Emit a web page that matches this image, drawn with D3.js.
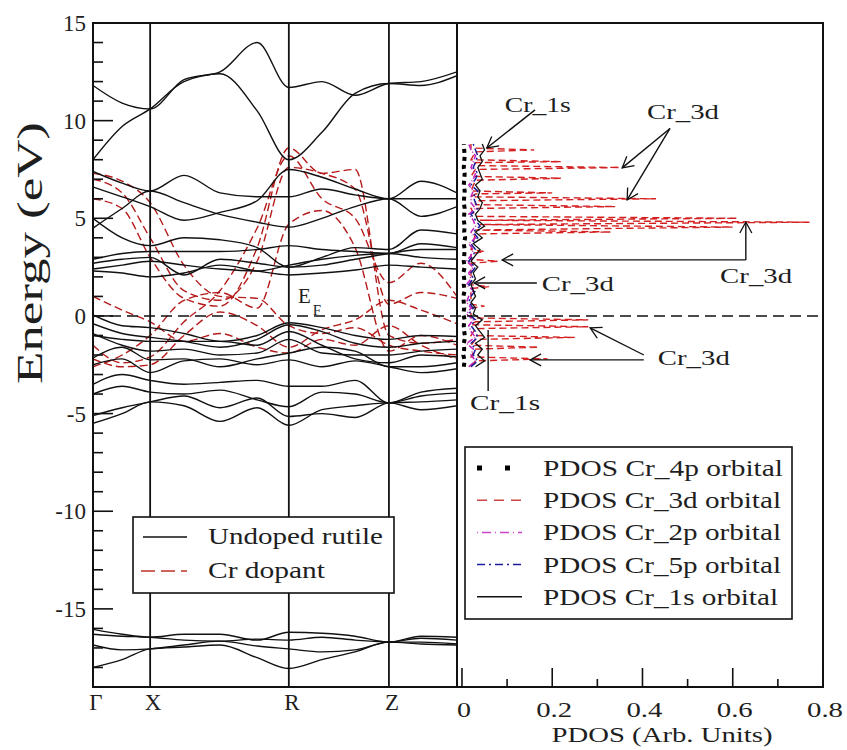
<!DOCTYPE html>
<html>
<head>
<meta charset="utf-8">
<script src="https://cdn.jsdelivr.net/npm/d3@7"></script>
<style>
body{margin:0;background:#fff}
svg text{font-family:"Liberation Serif",Tinos,"Times New Roman",Times,"DejaVu Serif",serif;fill:#1e1e1e}
</style>
</head>
<body>
<script>
// k path positions (fraction of the path) where bands are sampled
var kPos = [0, 0.08, 0.157, 0.25, 0.349, 0.451, 0.538, 0.629, 0.72, 0.813, 0.901, 1.0]
var kTicks = [0, 0.157, 0.538, 0.813]
var kLabels = ["Γ", "X", "R", "Z"]

// undoped rutile bands (eV), one row per band, values at kPos
var conduction = [
 [11.8, 10.9, 10.6, 12.1, 12.5, 14.0, 11.7, 12.0, 11.3, 11.9, 12.0, 12.5],
 [8.0, 9.7, 10.6, 12.0, 12.4, 10.5, 8.0, 9.4, 11.4, 11.9, 11.8, 12.3],
 [7.4, 6.8, 6.4, 7.2, 6.3, 6.1, 6.1, 6.5, 6.2, 6.0, 6.9, 6.3],
 [6.6, 6.1, 5.6, 4.9, 5.3, 5.9, 7.5, 7.1, 6.5, 6.0, 6.0, 6.0],
 [4.5, 5.5, 6.4, 5.8, 5.2, 4.8, 4.55, 5.0, 5.6, 6.0, 5.1, 5.6],
 [5.0, 4.0, 3.6, 4.0, 3.9, 3.5, 2.5, 3.0, 3.5, 3.4, 4.4, 4.2],
 [2.9, 3.2, 3.3, 3.3, 3.3, 3.4, 3.6, 3.4, 3.3, 3.2, 3.7, 3.5],
 [2.7, 2.9, 3.0, 2.1, 2.9, 2.7, 2.5, 2.6, 2.9, 3.2, 3.4, 3.4],
 [2.4, 2.6, 2.8, 2.6, 2.4, 2.3, 2.6, 2.9, 3.1, 3.2, 3.0, 2.9],
 [2.3, 2.2, 2.0, 2.2, 2.6, 2.3, 2.1, 2.2, 2.35, 2.6, 2.5, 2.4]
]
var valence = [
 [0.05, -0.5, -0.6, -0.9, -1.3, -1.0, -0.35, -0.6, -1.0, -1.2, -1.0, -1.05],
 [-0.4, -0.9, -1.1, -1.3, -1.6, -1.2, -0.45, -0.8, -1.4, -1.6, -1.4, -1.3],
 [-1.0, -1.2, -1.3, -1.3, -1.3, -1.5, -0.8, -1.5, -2.2, -2.4, -2.0, -2.1],
 [-0.9, -1.5, -1.8, -1.7, -2.0, -1.9, -1.2, -1.9, -2.0, -2.0, -1.8, -1.7],
 [-2.15, -1.6, -2.25, -2.2, -2.6, -2.2, -1.9, -1.6, -1.8, -2.6, -2.6, -2.4],
 [-2.5, -2.2, -2.9, -2.3, -2.2, -2.5, -2.25, -2.6, -2.3, -2.6, -2.9, -2.7],
 [-3.5, -3.0, -3.3, -3.5, -3.4, -3.3, -3.6, -3.6, -3.3, -4.45, -3.9, -3.7],
 [-4.0, -3.6, -3.9, -4.0, -3.8, -4.3, -4.65, -3.9, -4.0, -4.45, -4.1, -3.95],
 [-5.1, -4.7, -4.4, -4.1, -4.7, -4.2, -5.15, -5.0, -5.2, -4.45, -4.4, -4.3],
 [-5.5, -5.0, -4.4, -4.6, -5.4, -4.7, -5.6, -4.8, -4.6, -4.45, -4.8, -4.6]
]
var deep = [
 [-16.05, -16.3, -16.45, -16.3, -16.3, -16.6, -16.2, -16.25, -16.4, -16.7, -16.4, -16.45],
 [-16.3, -16.4, -16.45, -16.6, -16.65, -16.55, -16.6, -16.45, -16.6, -16.7, -16.5, -16.6],
 [-16.85, -17.1, -17.05, -16.85, -16.65, -16.9, -17.05, -17.2, -17.1, -16.7, -16.7, -16.8],
 [-18.0, -17.6, -17.05, -16.95, -16.85, -17.5, -18.05, -17.6, -17.2, -16.7, -16.8, -16.85]
]
// Cr doped bands
var crBands = [
 [7.3, 6.9, 5.8, 2.6, 1.0, 0.9, -0.5, -0.9, -0.6, -1.5, -1.8, -2.0],
 [7.0, 6.3, 4.0, 1.3, 0.8, 2.8, 7.6, 7.3, 6.5, 0.6, 1.2, 0.9],
 [6.0, 5.5, 3.0, 0.9, 0.5, 3.5, 8.6, 7.3, 7.5, -1.0, -1.4, -1.2],
 [-1.5, -2.4, -2.1, -0.3, 1.3, 4.5, 8.2, 6.0, 5.0, 1.7, 2.7, 1.0],
 [-2.2, -2.6, -2.5, -1.0, 0.2, -0.5, -1.6, -0.7, -0.2, 0.8, 0.3, -0.4],
 [-2.6, -2.0, -1.0, 0.8, 1.2, 0.4, 4.7, 5.4, 3.5, -1.8, -1.0, -1.5],
 [1.0, 0.3, -0.3, -1.3, -0.9, -1.6, -1.9, -1.2, -1.5, -0.5, -1.5, -2.2]
]

// PDOS (arb. units)
var pdosE = [-2.6, -2.3, -2.0, -1.7, -1.4, -1.1, -0.8, -0.5, -0.2, 0.1, 0.4, 0.7, 1.0, 1.3, 1.6, 1.9, 2.2, 2.5, 2.8, 3.1, 3.4, 3.7, 4.0, 4.3, 4.6, 4.9, 5.2, 5.5, 5.8, 6.1, 6.4, 6.7, 7.0, 7.3, 7.6, 7.9, 8.2, 8.5, 8.8]
var pdos1s = [0.03, 0.05, 0.035, 0.045, 0.03, 0.05, 0.04, 0.03, 0.045, 0.025, 0.03, 0.02, 0.03, 0.025, 0.02, 0.03, 0.025, 0.035, 0.02, 0.03, 0.04, 0.025, 0.045, 0.03, 0.05, 0.035, 0.03, 0.04, 0.045, 0.035, 0.04, 0.03, 0.045, 0.04, 0.035, 0.045, 0.04, 0.05, 0.045]
var pdos5p = [0.02, 0.035, 0.025, 0.03, 0.02, 0.035, 0.03, 0.02, 0.03, 0.015, 0.025, 0.015, 0.02, 0.03, 0.015, 0.025, 0.02, 0.03, 0.015, 0.025, 0.03, 0.02, 0.035, 0.025, 0.04, 0.03, 0.02, 0.035, 0.03, 0.025, 0.035, 0.02, 0.03, 0.035, 0.025, 0.03, 0.035, 0.03, 0.025]
var pdos2p = [0.015, 0.03, 0.02, 0.025, 0.01, 0.03, 0.02, 0.015, 0.025, 0.01, 0.02, 0.01, 0.015, 0.025, 0.01, 0.02, 0.015, 0.025, 0.01, 0.02, 0.025, 0.015, 0.03, 0.02, 0.03, 0.025, 0.015, 0.03, 0.02, 0.02, 0.025, 0.015, 0.025, 0.03, 0.02, 0.025, 0.03, 0.02, 0.015]
var pdos4p = [0.004, 0.006, 0.003, 0.005, 0.004, 0.007, 0.005, 0.004, 0.006, 0.003, 0.005, 0.004, 0.003, 0.006, 0.004, 0.005, 0.003, 0.006, 0.004, 0.005, 0.006, 0.004, 0.007, 0.005, 0.006, 0.004, 0.005, 0.006, 0.004, 0.005, 0.006, 0.004, 0.005, 0.006, 0.004, 0.005, 0.006, 0.005, 0.004]
var e3d = [-2.6, -2.3, -2.2, -2.1, -1.7, -1.6, -1.5, -1.2, -1.1, -1.0, -0.65, -0.55, -0.45, -0.3, -0.2, -0.1, 0.4, 0.5, 0.6, 1.4, 1.5, 1.6, 2.7, 2.8, 2.9, 3.2, 3.3, 3.4, 4.2, 4.3, 4.4, 4.55, 4.68, 4.8, 4.9, 5.0, 5.1, 5.5, 5.6, 5.7, 5.9, 6.0, 6.1, 6.25, 6.3, 6.4, 6.95, 7.05, 7.15, 7.5, 7.6, 7.7, 7.85, 7.9, 8.0, 8.4, 8.5, 8.6, 8.8]
var pdos3d = [0.02, 0.03, 0.19, 0.02, 0.03, 0.17, 0.02, 0.03, 0.25, 0.02, 0.03, 0.28, 0.02, 0.03, 0.28, 0.02, 0.02, 0.05, 0.02, 0.02, 0.06, 0.02, 0.02, 0.08, 0.02, 0.02, 0.05, 0.02, 0.03, 0.33, 0.03, 0.6, 0.04, 0.77, 0.04, 0.61, 0.03, 0.02, 0.34, 0.03, 0.03, 0.43, 0.02, 0.03, 0.2, 0.02, 0.03, 0.22, 0.02, 0.03, 0.35, 0.03, 0.03, 0.22, 0.02, 0.03, 0.16, 0.02, 0.02]
var pdosTicks = [0, 0.2, 0.4, 0.6, 0.8]

// annotations in data units: [pdos, energy]
var noteText = ["Cr_1s", "Cr_3d", "Cr_3d", "Cr_3d", "Cr_3d", "Cr_1s"]
var notePos = [[0.095, 10.45], [0.41, 10.1], [0.572, 1.69], [0.177, 1.28], [0.434, -2.51], [0.018, -4.8]]
var noteLen = [66, 72, 72, 72, 72, 70]
var arrowSeg = [
 [0.162, 10.55, 0.055, 8.6, 1],
 [0.461, 9.6, 0.355, 7.58, 1],
 [0.461, 9.6, 0.366, 5.94, 1],
 [0.629, 2.87, 0.629, 4.81, 1],
 [0.629, 2.87, 0.089, 2.87, 1],
 [0.166, 1.69, 0.027, 1.69, 1],
 [0.403, -2.0, 0.284, -0.61, 1],
 [0.403, -2.25, 0.151, -2.25, 1],
 [0.058, -3.84, 0.058, -0.72, 0]
]

var width = 847, height = 750
var svg = d3.select("body").append("svg").attr("width", width).attr("height", height)

var yTop = 23, yBot = 687
var y = d3.scaleLinear().domain([-19, 15]).range([yBot, yTop])
var xk = d3.scaleLinear().domain([0, 1]).range([93, 457])
var xp = d3.scaleLinear().domain([-0.011, 0.8]).range([457, 823])

var defs = svg.append("defs")
defs.append("clipPath").attr("id", "clipL").append("rect")
  .attr("x", xk(0)).attr("y", yTop).attr("width", xk(1) - xk(0)).attr("height", yBot - yTop)
defs.append("marker").attr("id", "arr").attr("markerUnits", "userSpaceOnUse")
  .attr("markerWidth", 16).attr("markerHeight", 16).attr("refX", 12).attr("refY", 7)
  .attr("orient", "auto")
  .append("path").attr("d", "M1,1 L12,7 L1,13").attr("fill", "none").attr("stroke", "#111").attr("stroke-width", 1.3)

// left panel bands
var bandLine = d3.line().x(function(d, i){ return xk(kPos[i]) }).y(function(d){ return y(d) }).curve(d3.curveMonotoneX)
var gL = svg.append("g").attr("clip-path", "url(#clipL)")

gL.selectAll("path.red").data(crBands).enter().append("path")
  .attr("class", "red").attr("d", bandLine)
  .attr("fill", "none").attr("stroke", "#b51a1a").attr("stroke-width", 1.4)
  .attr("stroke-dasharray", "8,4")

gL.selectAll("path.band").data(conduction.concat(valence, deep)).enter().append("path")
  .attr("class", "band").attr("d", bandLine)
  .attr("fill", "none").attr("stroke", "#111").attr("stroke-width", 1.4)

// vertical k lines
svg.selectAll("line.kl").data(kTicks.slice(1)).enter().append("line")
  .attr("x1", function(d){ return xk(d) }).attr("x2", function(d){ return xk(d) })
  .attr("y1", yTop).attr("y2", yBot).attr("stroke", "#111").attr("stroke-width", 1.8)

// PDOS curves
function pdosLine(vals, es){
  return d3.line().x(function(d, i){ return xp(vals[i]) }).y(function(d, i){ return y(es[i]) })(vals)
}
svg.append("path").attr("d", pdosLine(pdos3d, e3d))
  .attr("fill", "none").attr("stroke", "#d42020").attr("stroke-width", 1.4).attr("stroke-dasharray", "7,4")
svg.append("path").attr("d", pdosLine(pdos2p, pdosE))
  .attr("fill", "none").attr("stroke", "#c020c0").attr("stroke-width", 1.5).attr("stroke-dasharray", "6,2,1,2")
svg.append("path").attr("d", pdosLine(pdos5p, pdosE))
  .attr("fill", "none").attr("stroke", "#1c1c9c").attr("stroke-width", 1.5).attr("stroke-dasharray", "7,3,2,3")
svg.append("path").attr("d", pdosLine(pdos1s, pdosE))
  .attr("fill", "none").attr("stroke", "#111").attr("stroke-width", 1.3)
svg.append("path").attr("d", pdosLine(pdos4p, pdosE))
  .attr("fill", "none").attr("stroke", "#000").attr("stroke-width", 4).attr("stroke-dasharray", "4,4")

// Fermi level
svg.append("line").attr("x1", xk(0)).attr("x2", xp(0.8)).attr("y1", y(0)).attr("y2", y(0))
  .attr("stroke", "#111").attr("stroke-width", 1.4).attr("stroke-dasharray", "11,6")
svg.append("text").attr("x", xk(0.563)).attr("y", y(0.66)).style("font-size", "21px").text("E")
svg.append("text").attr("x", xk(0.604)).attr("y", y(0.05)).style("font-size", "15px").text("F")

// frames
svg.append("rect").attr("x", xk(0)).attr("y", yTop).attr("width", xk(1) - xk(0)).attr("height", yBot - yTop)
  .attr("fill", "none").attr("stroke", "#111").attr("stroke-width", 2)
svg.append("rect").attr("x", xp.range()[0]).attr("y", yTop).attr("width", xp.range()[1] - xp.range()[0]).attr("height", yBot - yTop)
  .attr("fill", "none").attr("stroke", "#111").attr("stroke-width", 2)

// energy axis
var yMinor = d3.range(-19, 16).filter(function(d){ return d % 5 != 0 })
svg.selectAll("line.ymin").data(yMinor).enter().append("line")
  .attr("x1", xk(0)).attr("x2", xk(0) + 10).attr("y1", y).attr("y2", y)
  .attr("stroke", "#111").attr("stroke-width", 1.6)
var yMajor = [-15, -10, -5, 0, 5, 10, 15]
svg.selectAll("line.ymaj").data(yMajor).enter().append("line")
  .attr("x1", xk(0)).attr("x2", xk(0) + 20).attr("y1", y).attr("y2", y)
  .attr("stroke", "#111").attr("stroke-width", 1.6)
svg.selectAll("text.yl").data(yMajor).enter().append("text")
  .attr("x", 86).attr("y", function(d){ return y(d) + 8 })
  .attr("text-anchor", "end").style("font-size", "23px").text(function(d){ return d })

svg.append("text").attr("transform", "translate(42,253) rotate(-90)")
  .attr("text-anchor", "middle").style("font-size", "35px")
  .attr("textLength", 262).attr("lengthAdjust", "spacingAndGlyphs")
  .text("Energy  (eV)")

// k labels
svg.selectAll("text.kl").data(kTicks).enter().append("text")
  .attr("x", function(d){ return xk(d) + 3 }).attr("y", 710)
  .attr("text-anchor", "middle").style("font-size", "23px")
  .text(function(d, i){ return kLabels[i] })

// PDOS axis
var pMinor = [0.1, 0.3, 0.5, 0.7]
svg.selectAll("line.pmin").data(pMinor).enter().append("line")
  .attr("x1", xp).attr("x2", xp).attr("y1", yBot).attr("y2", yBot - 8)
  .attr("stroke", "#111").attr("stroke-width", 1.6)
svg.selectAll("line.pmaj").data(pdosTicks).enter().append("line")
  .attr("x1", xp).attr("x2", xp).attr("y1", yBot).attr("y2", yBot - 19)
  .attr("stroke", "#111").attr("stroke-width", 1.6)
svg.selectAll("text.pl").data(pdosTicks).enter().append("text")
  .attr("x", function(d){ return xp(d) + 2 }).attr("y", 717)
  .attr("text-anchor", "middle").style("font-size", "22px")
  .attr("textLength", function(d){ return d == 0 ? 14 : 36 }).attr("lengthAdjust", "spacingAndGlyphs")
  .text(function(d){ return d })
svg.append("text").attr("x", 662).attr("y", 742).attr("text-anchor", "middle")
  .style("font-size", "21px").attr("textLength", 221).attr("lengthAdjust", "spacingAndGlyphs")
  .text("PDOS (Arb. Units)")

// annotations
svg.selectAll("line.arr").data(arrowSeg).enter().append("line")
  .attr("x1", function(d){ return xp(d[0]) }).attr("y1", function(d){ return y(d[1]) })
  .attr("x2", function(d){ return xp(d[2]) }).attr("y2", function(d){ return y(d[3]) })
  .attr("stroke", "#111").attr("stroke-width", 1.4)
  .attr("marker-end", function(d){ return d[4] ? "url(#arr)" : null })
svg.selectAll("text.note").data(noteText).enter().append("text")
  .attr("x", function(d, i){ return xp(notePos[i][0]) }).attr("y", function(d, i){ return y(notePos[i][1]) })
  .style("font-size", "21px").attr("textLength", function(d, i){ return noteLen[i] })
  .attr("lengthAdjust", "spacingAndGlyphs").text(function(d){ return d })

// legend left
var gl = svg.append("g")
gl.append("rect").attr("x", 133).attr("y", 517).attr("width", 261).attr("height", 76)
  .attr("fill", "#fff").attr("stroke", "#111").attr("stroke-width", 1.6)
gl.append("line").attr("x1", 143).attr("x2", 187).attr("y1", 537).attr("y2", 537).attr("stroke", "#111").attr("stroke-width", 1.4)
gl.append("line").attr("x1", 141).attr("x2", 187).attr("y1", 571).attr("y2", 571).attr("stroke", "#c0302a").attr("stroke-width", 1.4).attr("stroke-dasharray", "14,6")
gl.append("text").attr("x", 208).attr("y", 544).style("font-size", "24px").attr("textLength", 175).attr("lengthAdjust", "spacingAndGlyphs").text("Undoped rutile")
gl.append("text").attr("x", 208).attr("y", 578).style("font-size", "24px").attr("textLength", 117).attr("lengthAdjust", "spacingAndGlyphs").text("Cr dopant")

// legend right
var legNames = ["PDOS Cr_4p orbital", "PDOS Cr_3d orbital", "PDOS Cr_2p orbital", "PDOS Cr_5p orbital", "PDOS Cr_1s orbital"]
var legColor = ["#000", "#cc4444", "#cc44cc", "#1c1c9c", "#111"]
var legDash = ["5,23", "10,7", "1,4,9,4", "8,4,2,4", null]
var legLen = [240, 238, 238, 238, 235]
var gr = svg.append("g")
gr.append("rect").attr("x", 465).attr("y", 447).attr("width", 327).attr("height", 172)
  .attr("fill", "#fff").attr("stroke", "#111").attr("stroke-width", 1.6)
legNames.forEach(function(n, i){
  var yy = 468 + i * 32.2
  gr.append("line").attr("x1", 477).attr("x2", 522).attr("y1", yy).attr("y2", yy)
    .attr("stroke", legColor[i]).attr("stroke-width", i == 0 ? 5 : 1.5)
    .attr("stroke-dasharray", legDash[i])
  gr.append("text").attr("x", 543).attr("y", yy + 8).style("font-size", "24px")
    .attr("textLength", legLen[i]).attr("lengthAdjust", "spacingAndGlyphs").text(n)
})
</script>
</body>
</html>
